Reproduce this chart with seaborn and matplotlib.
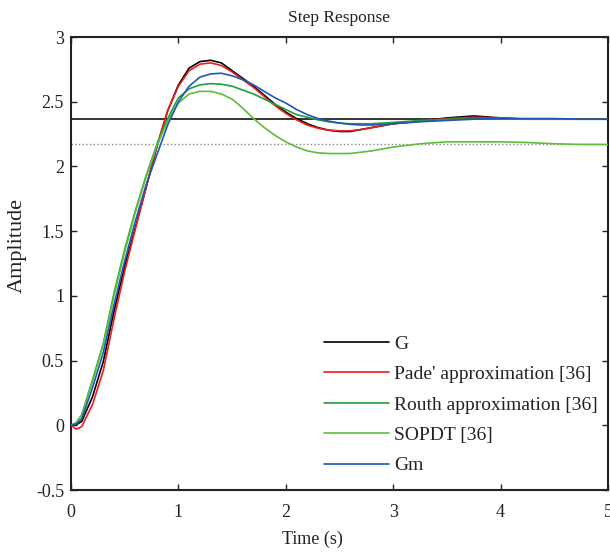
import numpy as np
import pandas as pd
import matplotlib
matplotlib.use('Agg')
import matplotlib.pyplot as plt
import seaborn as sns
from matplotlib.ticker import FuncFormatter

sns.set_style('ticks')
plt.rcParams['font.family'] = ['Liberation Serif', 'DejaVu Serif']

# 时间轴与各模型阶跃响应
times = [0, 0.05, 0.1, 0.2, 0.3, 0.4, 0.5, 0.6, 0.7, 0.8, 0.9, 1.0, 1.1, 1.2, 1.3,
         1.4, 1.5, 1.6, 1.7, 1.8, 1.9, 2.0, 2.1, 2.2, 2.3, 2.4, 2.5, 2.6, 2.7, 2.8,
         2.9, 3.0, 3.25, 3.5, 3.75, 4.0, 4.25, 4.5, 4.75, 5.0]

resp_G = [0, 0.005, 0.03, 0.22, 0.49, 0.88, 1.23, 1.53, 1.84, 2.15, 2.43, 2.63, 2.76,
          2.81, 2.82, 2.80, 2.74, 2.68, 2.62, 2.55, 2.48, 2.42, 2.37, 2.33, 2.30, 2.28,
          2.27, 2.27, 2.285, 2.30, 2.315, 2.33, 2.35, 2.375, 2.39, 2.375, 2.365, 2.365,
          2.365, 2.365]
resp_pade = [0, -0.03, -0.01, 0.16, 0.42, 0.82, 1.19, 1.52, 1.84, 2.16, 2.43, 2.62, 2.74,
             2.79, 2.80, 2.78, 2.73, 2.67, 2.61, 2.54, 2.47, 2.41, 2.36, 2.32, 2.295, 2.28,
             2.275, 2.275, 2.285, 2.30, 2.315, 2.33, 2.35, 2.37, 2.38, 2.375, 2.365, 2.365,
             2.365, 2.365]
resp_routh = [0, 0.02, 0.08, 0.35, 0.63, 1.02, 1.36, 1.66, 1.93, 2.17, 2.37, 2.53, 2.60,
              2.63, 2.64, 2.635, 2.62, 2.59, 2.56, 2.52, 2.48, 2.44, 2.40, 2.38, 2.36, 2.345,
              2.335, 2.33, 2.33, 2.33, 2.335, 2.34, 2.355, 2.365, 2.365, 2.365, 2.365, 2.365,
              2.365, 2.365]
resp_sopdt = [0, 0.02, 0.08, 0.34, 0.62, 1.00, 1.34, 1.65, 1.92, 2.16, 2.35, 2.49, 2.56,
              2.58, 2.58, 2.56, 2.52, 2.45, 2.37, 2.30, 2.24, 2.19, 2.15, 2.12, 2.105, 2.10,
              2.10, 2.10, 2.11, 2.12, 2.135, 2.15, 2.175, 2.19, 2.19, 2.19, 2.185, 2.175,
              2.17, 2.17]
resp_gm = [0, 0.01, 0.05, 0.29, 0.56, 0.93, 1.27, 1.58, 1.86, 2.09, 2.32, 2.50, 2.62,
           2.69, 2.715, 2.72, 2.70, 2.67, 2.63, 2.58, 2.53, 2.49, 2.44, 2.40, 2.37, 2.35,
           2.335, 2.325, 2.32, 2.32, 2.325, 2.33, 2.345, 2.355, 2.365, 2.37, 2.37, 2.37,
           2.365, 2.365]

# 稳态值
final_G = 2.365
final_sopdt = 2.17

labels = ['G', "Pade' approximation [36]", 'Routh approximation [36]', 'SOPDT [36]', 'Gm']
colors = ['#000000', '#ee1c1c', '#1f9e3c', '#5cbf3a', '#1f57b8']

series = [resp_G, resp_pade, resp_routh, resp_sopdt, resp_gm]
df = pd.concat([pd.DataFrame({'t': times, 'y': s, 'model': lab})
                for s, lab in zip(series, labels)], ignore_index=True)

fig = plt.figure(figsize=(6.1, 5.54), dpi=100)
ax = fig.add_axes([0.1164, 0.1155, 0.8803, 0.8177])

ax.axhline(final_G, color='#333333', lw=1.4, zorder=1)
ax.axhline(final_sopdt, color='#888888', lw=1.0, ls=':', zorder=1)

sns.lineplot(data=df, x='t', y='y', hue='model', hue_order=labels,
             palette=dict(zip(labels, colors)), lw=1.2, ax=ax, estimator=None,
             sort=False, zorder=3)

ax.set_xlim(0, 5)
ax.set_ylim(-0.5, 3)
ax.set_xticks([0, 1, 2, 3, 4, 5])
ax.set_yticks([-0.5, 0, 0.5, 1, 1.5, 2, 2.5, 3])
ax.yaxis.set_major_formatter(FuncFormatter(lambda v, p: '%g' % v))
ax.tick_params(direction='in', length=4, width=1, top=True, right=True,
               labelsize=13, colors='#222222')
ax.tick_params(axis='x', pad=10)
ax.tick_params(axis='y', pad=5)
for sp in ax.spines.values():
    sp.set_visible(True)
    sp.set_linewidth(1.5)
    sp.set_color('#222222')

ax.set_title('Step Response', fontsize=12.5, pad=11, color='#222222')
ax.set_xlabel('Time (s)', fontsize=13, color='#222222')
ax.set_ylabel('Amplitude', fontsize=16, color='#222222')
ax.xaxis.set_label_coords(0.449, -0.09)
ax.yaxis.set_label_coords(-0.082, 0.54)

leg = ax.legend(loc='upper left', bbox_to_anchor=(0.472, 0.342), frameon=False,
                fontsize=14, handlelength=3.3, handletextpad=0.3,
                labelspacing=0.66, borderaxespad=0, borderpad=0)
for txt in leg.get_texts():
    txt.set_color('#222222')

fig.savefig('out.png', dpi=100)
